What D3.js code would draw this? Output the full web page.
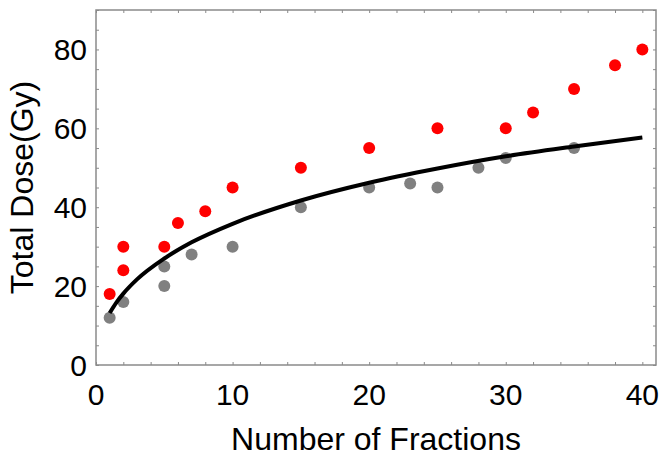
<!DOCTYPE html>
<html>
<head>
<meta charset="utf-8">
<script src="https://cdn.jsdelivr.net/npm/d3@7"></script>
<style>
  body { margin: 0; background: #fff; }
  text { font-family: "Liberation Sans", Arial, sans-serif; fill: #000; }
</style>
</head>
<body>
<svg class="chart"></svg>
<script>
// Width and height
var width = 662, height = 457;
var margin = { top: 10, right: 6, bottom: 92, left: 96 };

// Data
var redX = [1, 2, 2, 5, 6, 8, 10, 15, 20, 25, 30, 32, 35, 38, 40];
var redY = [18, 24, 30, 30, 36, 39, 45, 50, 55, 60, 60, 64, 70, 76, 80];
var grayX = [1, 2, 5, 5, 7, 10, 15, 20, 23, 25, 28, 30, 35];
var grayY = [12, 16, 20, 25, 28, 30, 40, 45, 46, 45, 50, 52.5, 55];
// fitted curve
var fitX = [1, 1.5, 2, 3, 5, 7, 10, 15, 20, 25, 30, 35, 40];
var fitY = [13.2, 15.9, 18.1, 21.7, 27.0, 31.1, 35.8, 41.7, 46.2, 49.8, 52.9, 55.4, 57.7];
var xTicks = [0, 10, 20, 30, 40];
var yTicks = [0, 20, 40, 60, 80];

var svg = d3.select(".chart")
  .attr("width", width)
  .attr("height", height);

var x = d3.scaleLinear()
  .domain([0, 41])
  .range([margin.left, width - margin.right]);

var y = d3.scaleLinear()
  .domain([0, 90])
  .range([height - margin.bottom, margin.top]);

var frameColor = "#8a8a8a";

// inward ticks on all four sides, mathematica style
var minorX = d3.range(0, 41, 2), minorY = d3.range(0, 91, 5);

svg.append("g")
  .attr("transform", "translate(0," + y(0) + ")")
  .call(d3.axisTop(x).tickValues(minorX).tickSize(3).tickFormat(""))
  .call(function (g) { g.select(".domain").remove(); });
svg.append("g")
  .attr("transform", "translate(0," + y(90) + ")")
  .call(d3.axisBottom(x).tickValues(minorX).tickSize(3).tickFormat(""))
  .call(function (g) { g.select(".domain").remove(); });
svg.append("g")
  .attr("transform", "translate(" + x(0) + ",0)")
  .call(d3.axisRight(y).tickValues(minorY).tickSize(3).tickFormat(""))
  .call(function (g) { g.select(".domain").remove(); });
svg.append("g")
  .attr("transform", "translate(" + x(41) + ",0)")
  .call(d3.axisLeft(y).tickValues(minorY).tickSize(3).tickFormat(""))
  .call(function (g) { g.select(".domain").remove(); });

svg.selectAll(".tick line").attr("stroke", frameColor);

// frame
svg.append("rect")
  .attr("x", x(0))
  .attr("y", y(90))
  .attr("width", x(41) - x(0))
  .attr("height", y(0) - y(90))
  .attr("fill", "none")
  .attr("stroke", frameColor)
  .attr("stroke-width", 1.5);

// tick labels
svg.selectAll(".xlab")
  .data(xTicks)
  .enter().append("text")
  .attr("x", function (d) { return x(d); })
  .attr("y", y(0) + 40)
  .attr("text-anchor", "middle")
  .style("font-size", "30px")
  .text(function (d) { return d; });

svg.selectAll(".ylab")
  .data(yTicks)
  .enter().append("text")
  .attr("x", x(0) - 9)
  .attr("y", function (d) { return y(d); })
  .attr("dy", "0.36em")
  .attr("text-anchor", "end")
  .style("font-size", "30px")
  .text(function (d) { return d; });

// axis titles
svg.append("text")
  .attr("x", (x(0) + x(41)) / 2)
  .attr("y", 450)
  .attr("text-anchor", "middle")
  .style("font-size", "32px")
  .text("Number of Fractions");

svg.append("text")
  .attr("transform", "translate(33," + (y(0) + y(90)) / 2 + ") rotate(-90)")
  .attr("text-anchor", "middle")
  .style("font-size", "32px")
  .text("Total Dose(Gy)");

// points
svg.selectAll(".gray")
  .data(d3.range(grayX.length))
  .enter().append("circle")
  .attr("cx", function (i) { return x(grayX[i]); })
  .attr("cy", function (i) { return y(grayY[i]); })
  .attr("r", 6)
  .attr("fill", "#808080");

// fit line
var line = d3.line()
  .x(function (i) { return x(fitX[i]); })
  .y(function (i) { return y(fitY[i]); })
  .curve(d3.curveMonotoneX);

svg.append("path")
  .datum(d3.range(fitX.length))
  .attr("d", line)
  .attr("fill", "none")
  .attr("stroke", "#000")
  .attr("stroke-width", 4);

svg.selectAll(".red")
  .data(d3.range(redX.length))
  .enter().append("circle")
  .attr("cx", function (i) { return x(redX[i]); })
  .attr("cy", function (i) { return y(redY[i]); })
  .attr("r", 6)
  .attr("fill", "#ff0000");
</script>
</body>
</html>
